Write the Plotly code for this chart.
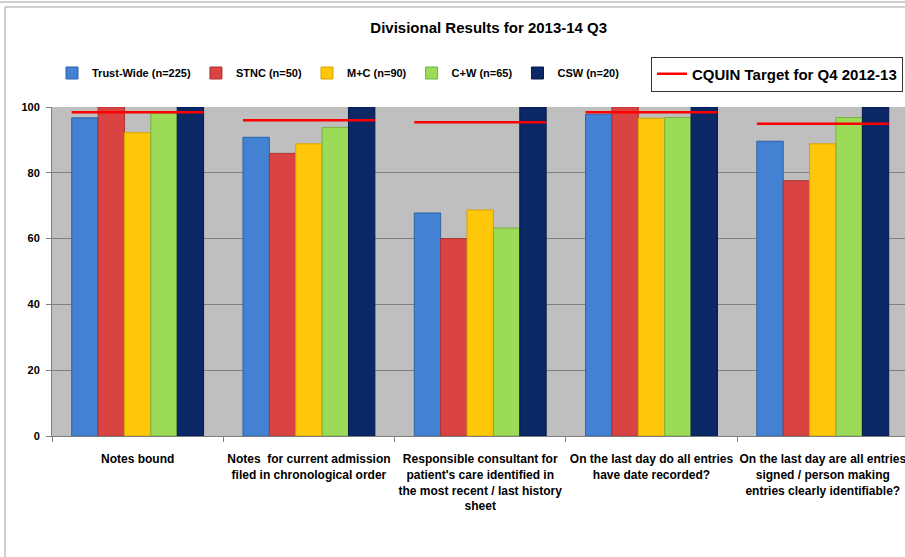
import plotly.graph_objects as go

categories = [
    "Notes bound",
    "Notes  for current admission<br>filed in chronological order",
    "Responsible consultant for<br>patient's care identified in<br>the most recent / last history<br>sheet",
    "On the last day do all entries<br>have date recorded?",
    "On the last day are all entries<br>signed / person making<br>entries clearly identifiable?",
]
series_names = ["Trust-Wide (n=225)", "STNC (n=50)", "M+C (n=90)", "C+W (n=65)", "CSW (n=20)"]
trust_wide = [96.7, 90.8, 67.8, 97.8, 89.6]
stnc = [100, 85.9, 60.0, 100, 77.6]
mc = [92.2, 88.8, 68.7, 96.6, 88.8]
cw = [98.1, 93.8, 63.2, 96.8, 96.8]
csw = [100, 100, 100, 100, 100]
target = [98.4, 96.0, 95.4, 98.4, 94.9]
target_name = "CQUIN Target for Q4 2012-13"

colors = ["#4381D3", "#D94442", "#FFC709", "#9BDB58", "#0B2766"]
edges = ["#2E63A8", "#A83331", "#D9A300", "#78B03E", "#061A48"]

FONT = "Liberation Sans, Arial, sans-serif"
x = list(range(len(categories)))
bargap = 0.23
half = (1 - bargap) / 2

fig = go.Figure()
for name, vals, c, e in zip(series_names, [trust_wide, stnc, mc, cw, csw], colors, edges):
    fig.add_trace(go.Bar(x=x, y=vals, name="<b>" + name + "</b>",
                         marker=dict(color=c, line=dict(color=e, width=1)), legend="legend"))

tx, ty = [], []
for i, t in enumerate(target):
    tx += [i - half, i + half, None]
    ty += [t, t, None]
fig.add_trace(go.Scatter(x=tx, y=ty, mode="lines", name="<b>" + target_name + "</b>",
                         line=dict(color="#FF0000", width=2.5), legend="legend2"))

L, R_, T, B = 52, 905, 107, 436
W, H = 905, 557
def px(v):
    return (v - L) / (R_ - L)
def py(v):
    return (B - v) / (B - T)

fig.update_layout(
    width=W, height=H,
    margin=dict(l=L, r=W - R_, t=T, b=H - B),
    paper_bgcolor="white",
    plot_bgcolor="#BFBFBF",
    barmode="group", bargap=bargap, bargroupgap=0,
    font=dict(family=FONT, size=12, color="black"),
    title=dict(text="<b>Divisional Results for 2013-14 Q3</b>", x=0.512, xref="paper",
               y=1 - 28 / H, yanchor="middle", font=dict(size=15, family=FONT)),
    xaxis=dict(range=[-0.5, 4.48], tickmode="array", tickvals=x,
               ticktext=["<b>" + c + "</b>" for c in categories],
               showgrid=False, ticks="", showline=True, linecolor="#7F7F7F", linewidth=1,
               tickfont=dict(size=12, family=FONT), ticklabeloverflow="allow",
               ticklabelstandoff=12,
               minor=dict(tickvals=[i - 0.5 for i in x] + [4.5], ticks="outside", ticklen=5,
                          tickcolor="#7F7F7F", showgrid=False)),
    yaxis=dict(range=[0, 100], tickvals=[0, 20, 40, 60, 80, 100],
               ticktext=["<b>%d</b>" % v for v in [0, 20, 40, 60, 80, 100]],
               showgrid=True, gridcolor="#808080", gridwidth=1,
               showline=True, linecolor="#7F7F7F", ticks="outside", ticklen=5, tickcolor="#7F7F7F",
               tickfont=dict(size=11, family=FONT), zeroline=False, ticklabelstandoff=4),
    legend=dict(orientation="h", x=px(52), y=py(73), xanchor="left", yanchor="middle",
                font=dict(size=11, family=FONT), bgcolor="rgba(0,0,0,0)", itemclick=False,
                traceorder="normal"),
    legend2=dict(orientation="h", x=px(651), y=py(74), xanchor="left", yanchor="middle",
                 font=dict(size=15, family=FONT), bgcolor="white", bordercolor="#333333",
                 borderwidth=1),
    showlegend=True,
)

# outer frame lines
fig.add_shape(type="line", xref="paper", yref="paper", x0=px(0), x1=px(905), y0=py(2), y1=py(2),
              line=dict(color="#A0A0A0", width=1))
fig.add_shape(type="line", xref="paper", yref="paper", x0=px(5), x1=px(905), y0=py(7), y1=py(7),
              line=dict(color="#A0A0A0", width=1))
fig.add_shape(type="line", xref="paper", yref="paper", x0=px(5), x1=px(5), y0=py(7), y1=py(557),
              line=dict(color="#A0A0A0", width=1))

fig.write_html("out.html")
